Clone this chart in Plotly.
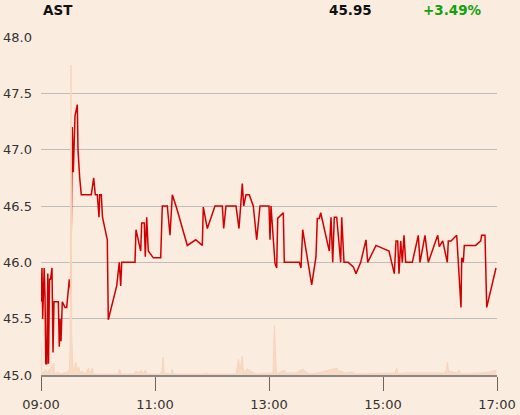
import plotly.graph_objects as go

DAY = "2024-01-02 "

# intraday trades (time, price)
TIMES = [
    "09:00:00", "09:00:32", "09:01:03", "09:01:47", "09:02:38", "09:03:22", "09:04:13", "09:05:03",
    "09:06:06", "09:07:10", "09:07:54", "09:08:57", "09:10:00", "09:11:35", "09:12:38", "09:13:41",
    "09:18:13", "09:19:16", "09:20:00", "09:21:03", "09:22:25", "09:25:16", "09:27:03", "09:28:44",
    "09:29:47", "09:31:16", "09:32:57", "09:34:00", "09:35:47", "09:38:13", "09:38:57", "09:40:44",
    "09:42:25", "09:52:57", "09:55:28", "09:57:10", "09:59:16", "10:01:03", "10:01:47", "10:03:28",
    "10:04:44", "10:09:47", "10:10:51", "10:19:41", "10:22:25", "10:23:54", "10:24:57", "10:38:57",
    "10:40:00", "10:44:57", "10:46:00", "10:48:44", "10:49:47", "10:51:16", "10:52:57", "10:58:13",
    "11:06:00", "11:07:41", "11:12:57", "11:15:47", "11:18:13", "11:22:51", "11:34:00", "11:42:51",
    "11:49:47", "11:50:51", "11:55:03", "12:03:10", "12:10:51", "12:12:19", "12:14:44", "12:25:16",
    "12:28:25", "12:31:54", "12:33:22", "12:35:47", "12:39:16", "12:43:28", "12:47:03", "12:50:32",
    "13:00:00", "13:01:03", "13:02:06", "13:06:19", "13:08:06", "13:09:09", "13:15:03", "13:16:06",
    "13:31:54", "13:33:41", "13:35:28", "13:44:57", "13:49:28", "13:50:51", "13:52:57", "13:54:25",
    "14:03:28", "14:05:16", "14:07:03", "14:08:44", "14:11:16", "14:15:28", "14:16:32", "14:18:57",
    "14:23:28", "14:28:44", "14:31:35", "14:36:32", "14:42:06", "14:43:54", "14:52:38", "15:06:19",
    "15:11:54", "15:13:41", "15:15:28", "15:16:51", "15:18:38", "15:20:19", "15:22:06", "15:23:54",
    "15:30:51", "15:37:10", "15:38:57", "15:44:13", "15:47:41", "15:57:35", "15:59:16", "16:02:51",
    "16:07:41", "16:08:44", "16:11:35", "16:17:35", "16:22:06", "16:22:51", "16:24:32", "16:25:35",
    "16:37:35", "16:42:51", "16:43:54", "16:47:22", "16:49:10", "16:58:57",
]
PRICES = [
    45.65, 45.95, 45.95, 45.50, 45.95, 45.95, 45.70, 45.10,
    45.10, 45.90, 45.10, 45.85, 45.85, 45.95, 45.20, 45.65,
    45.65, 45.25, 45.50, 45.30, 45.65, 45.60, 45.60, 45.75,
    45.85, 45.75, 47.20, 46.80, 47.30, 47.40, 47.00, 46.75,
    46.60, 46.60, 46.75, 46.60, 46.60, 46.40, 46.60, 46.60,
    46.40, 46.20, 45.49, 45.79, 46.00, 45.79, 46.00, 46.00,
    46.29, 46.10, 46.35, 46.35, 46.05, 46.40, 46.10, 46.04,
    46.04, 46.50, 46.50, 46.24, 46.60, 46.48, 46.15, 46.20,
    46.15, 46.49, 46.30, 46.50, 46.50, 46.30, 46.50, 46.50,
    46.30, 46.70, 46.50, 46.60, 46.60, 46.50, 46.20, 46.50,
    46.50, 46.20, 46.50, 45.99, 45.95, 46.39, 46.44, 46.00,
    46.00, 45.95, 46.29, 45.80, 46.05, 46.39, 46.39, 46.44,
    46.10, 46.40, 46.00, 46.40, 46.40, 46.00, 46.40, 46.00,
    46.00, 45.96, 45.90, 46.00, 46.20, 46.00, 46.15, 46.10,
    45.90, 46.19, 46.19, 45.90, 46.19, 46.00, 46.24, 46.00,
    46.00, 46.24, 46.00, 46.24, 46.00, 46.24, 46.14, 46.19,
    46.00, 46.19, 46.19, 46.24, 45.60, 46.04, 46.00, 46.15,
    46.15, 46.19, 46.24, 46.24, 45.60, 45.95,
]

# traded volume (shares)
VOL_TIMES = [
    "09:00:00", "09:00:48", "09:03:12", "09:04:42", "09:06:18", "09:13:24", "09:14:12", "09:17:54",
    "09:20:00", "09:24:12", "09:28:24", "09:30:00", "09:30:48", "09:31:36", "09:32:24", "09:33:24",
    "09:34:42", "09:36:30", "09:37:54", "09:39:30", "09:41:36", "09:43:12", "09:46:18", "09:50:12",
    "09:51:36", "09:54:00", "09:55:18", "10:02:00", "10:21:00", "10:22:48", "10:24:12", "10:37:54",
    "10:40:00", "10:43:12", "10:45:36", "10:47:24", "10:49:48", "10:51:36", "11:05:18", "11:07:24",
    "11:08:36", "11:09:42", "11:16:48", "11:18:12", "11:19:30", "11:52:36", "11:54:00", "11:55:48",
    "12:25:18", "12:27:54", "12:29:30", "12:31:54", "12:33:12", "12:36:48", "12:46:18", "13:04:12",
    "13:05:48", "13:06:48", "13:07:54", "13:16:18", "13:17:54", "13:28:24", "13:35:48", "13:39:00",
    "13:43:12", "13:51:36", "14:11:36", "14:13:42", "14:15:48", "14:20:00", "14:27:24", "14:30:30",
    "15:12:36", "15:14:24", "15:15:48", "15:24:12", "15:51:36", "16:04:12", "16:06:18", "16:07:54",
    "16:08:54", "16:17:54", "16:20:00", "16:22:06", "16:43:12", "16:52:36", "16:59:30",
]
VOLUMES = [
    1650, 150, 100, 300, 100, 600, 50, 150,
    50, 100, 150, 300, 2000, 15500, 2000, 400,
    150, 650, 250, 400, 100, 200, 50, 350,
    50, 350, 50, 50, 50, 300, 50, 50,
    200, 100, 250, 50, 250, 50, 50, 200,
    900, 100, 50, 300, 50, 50, 100, 50,
    50, 800, 250, 950, 100, 300, 50, 100,
    2500, 1000, 50, 250, 100, 100, 300, 150,
    50, 100, 350, 150, 200, 100, 150, 50,
    100, 350, 50, 100, 100, 100, 200, 650,
    200, 100, 250, 50, 100, 150, 250,
]

TICKS = ["09:00", "11:00", "13:00", "15:00", "17:00"]
Y_TICKS = [45.0, 45.5, 46.0, 46.5, 47.0, 47.5, 48.0]

BG = "#FBECE0"
FONT = "DejaVu Sans"

fig = go.Figure()
fig.add_trace(go.Scatter(
    x=[DAY + t for t in VOL_TIMES], y=VOLUMES, yaxis="y2",
    mode="lines", line=dict(color="#F8D6BC", width=1),
    fill="tozeroy", fillcolor="#F8D9C2", hoverinfo="skip",
))
fig.add_trace(go.Scatter(
    x=[DAY + t for t in TIMES], y=PRICES,
    mode="lines", line=dict(color="#D10000", width=1.5),
))

fig.update_layout(
    width=520, height=415,
    margin=dict(l=41, r=23, t=37, b=40),
    paper_bgcolor=BG, plot_bgcolor=BG,
    showlegend=False,
    font=dict(family=FONT, size=13, color="#333"),
    xaxis=dict(
        type="date", range=[DAY + "09:00", DAY + "17:00"],
        tickvals=[DAY + t for t in TICKS], ticktext=TICKS,
        showgrid=False, zeroline=False, automargin=False,
        showline=True, linecolor="#888", linewidth=1.5,
        ticks="outside", ticklen=14, tickcolor="#666", tickwidth=1,
        ticklabelstandoff=3,
    ),
    yaxis=dict(
        range=[45.0, 48.0], tickvals=Y_TICKS, tickformat=".1f",
        showgrid=True, gridcolor="#BDBDBD", gridwidth=1, automargin=False,
        zeroline=False, showline=False, ticks="", ticklabelstandoff=8,
    ),
    yaxis2=dict(
        overlaying="y", range=[0, 16900], visible=False,
    ),
)

HEADER = [("AST", 0.0, "#111"), ("45.95", 0.627, "#111"), ("+3.49%", 0.833, "#13A10E")]
for text, xpos, color in HEADER:
    fig.add_annotation(
        text=f"<b>{text}</b>", xref="paper", yref="paper", x=xpos, y=1.08,
        xanchor="left", yanchor="middle", showarrow=False,
        font=dict(family=FONT, size=13.5, color=color),
    )

# drop the default body margin so the figure sits at the window's corner
fig.write_html(
    "out.html",
    config={"displayModeBar": False},
    post_script=f"document.body.style.margin='0';document.body.style.background='{BG}';",
)
